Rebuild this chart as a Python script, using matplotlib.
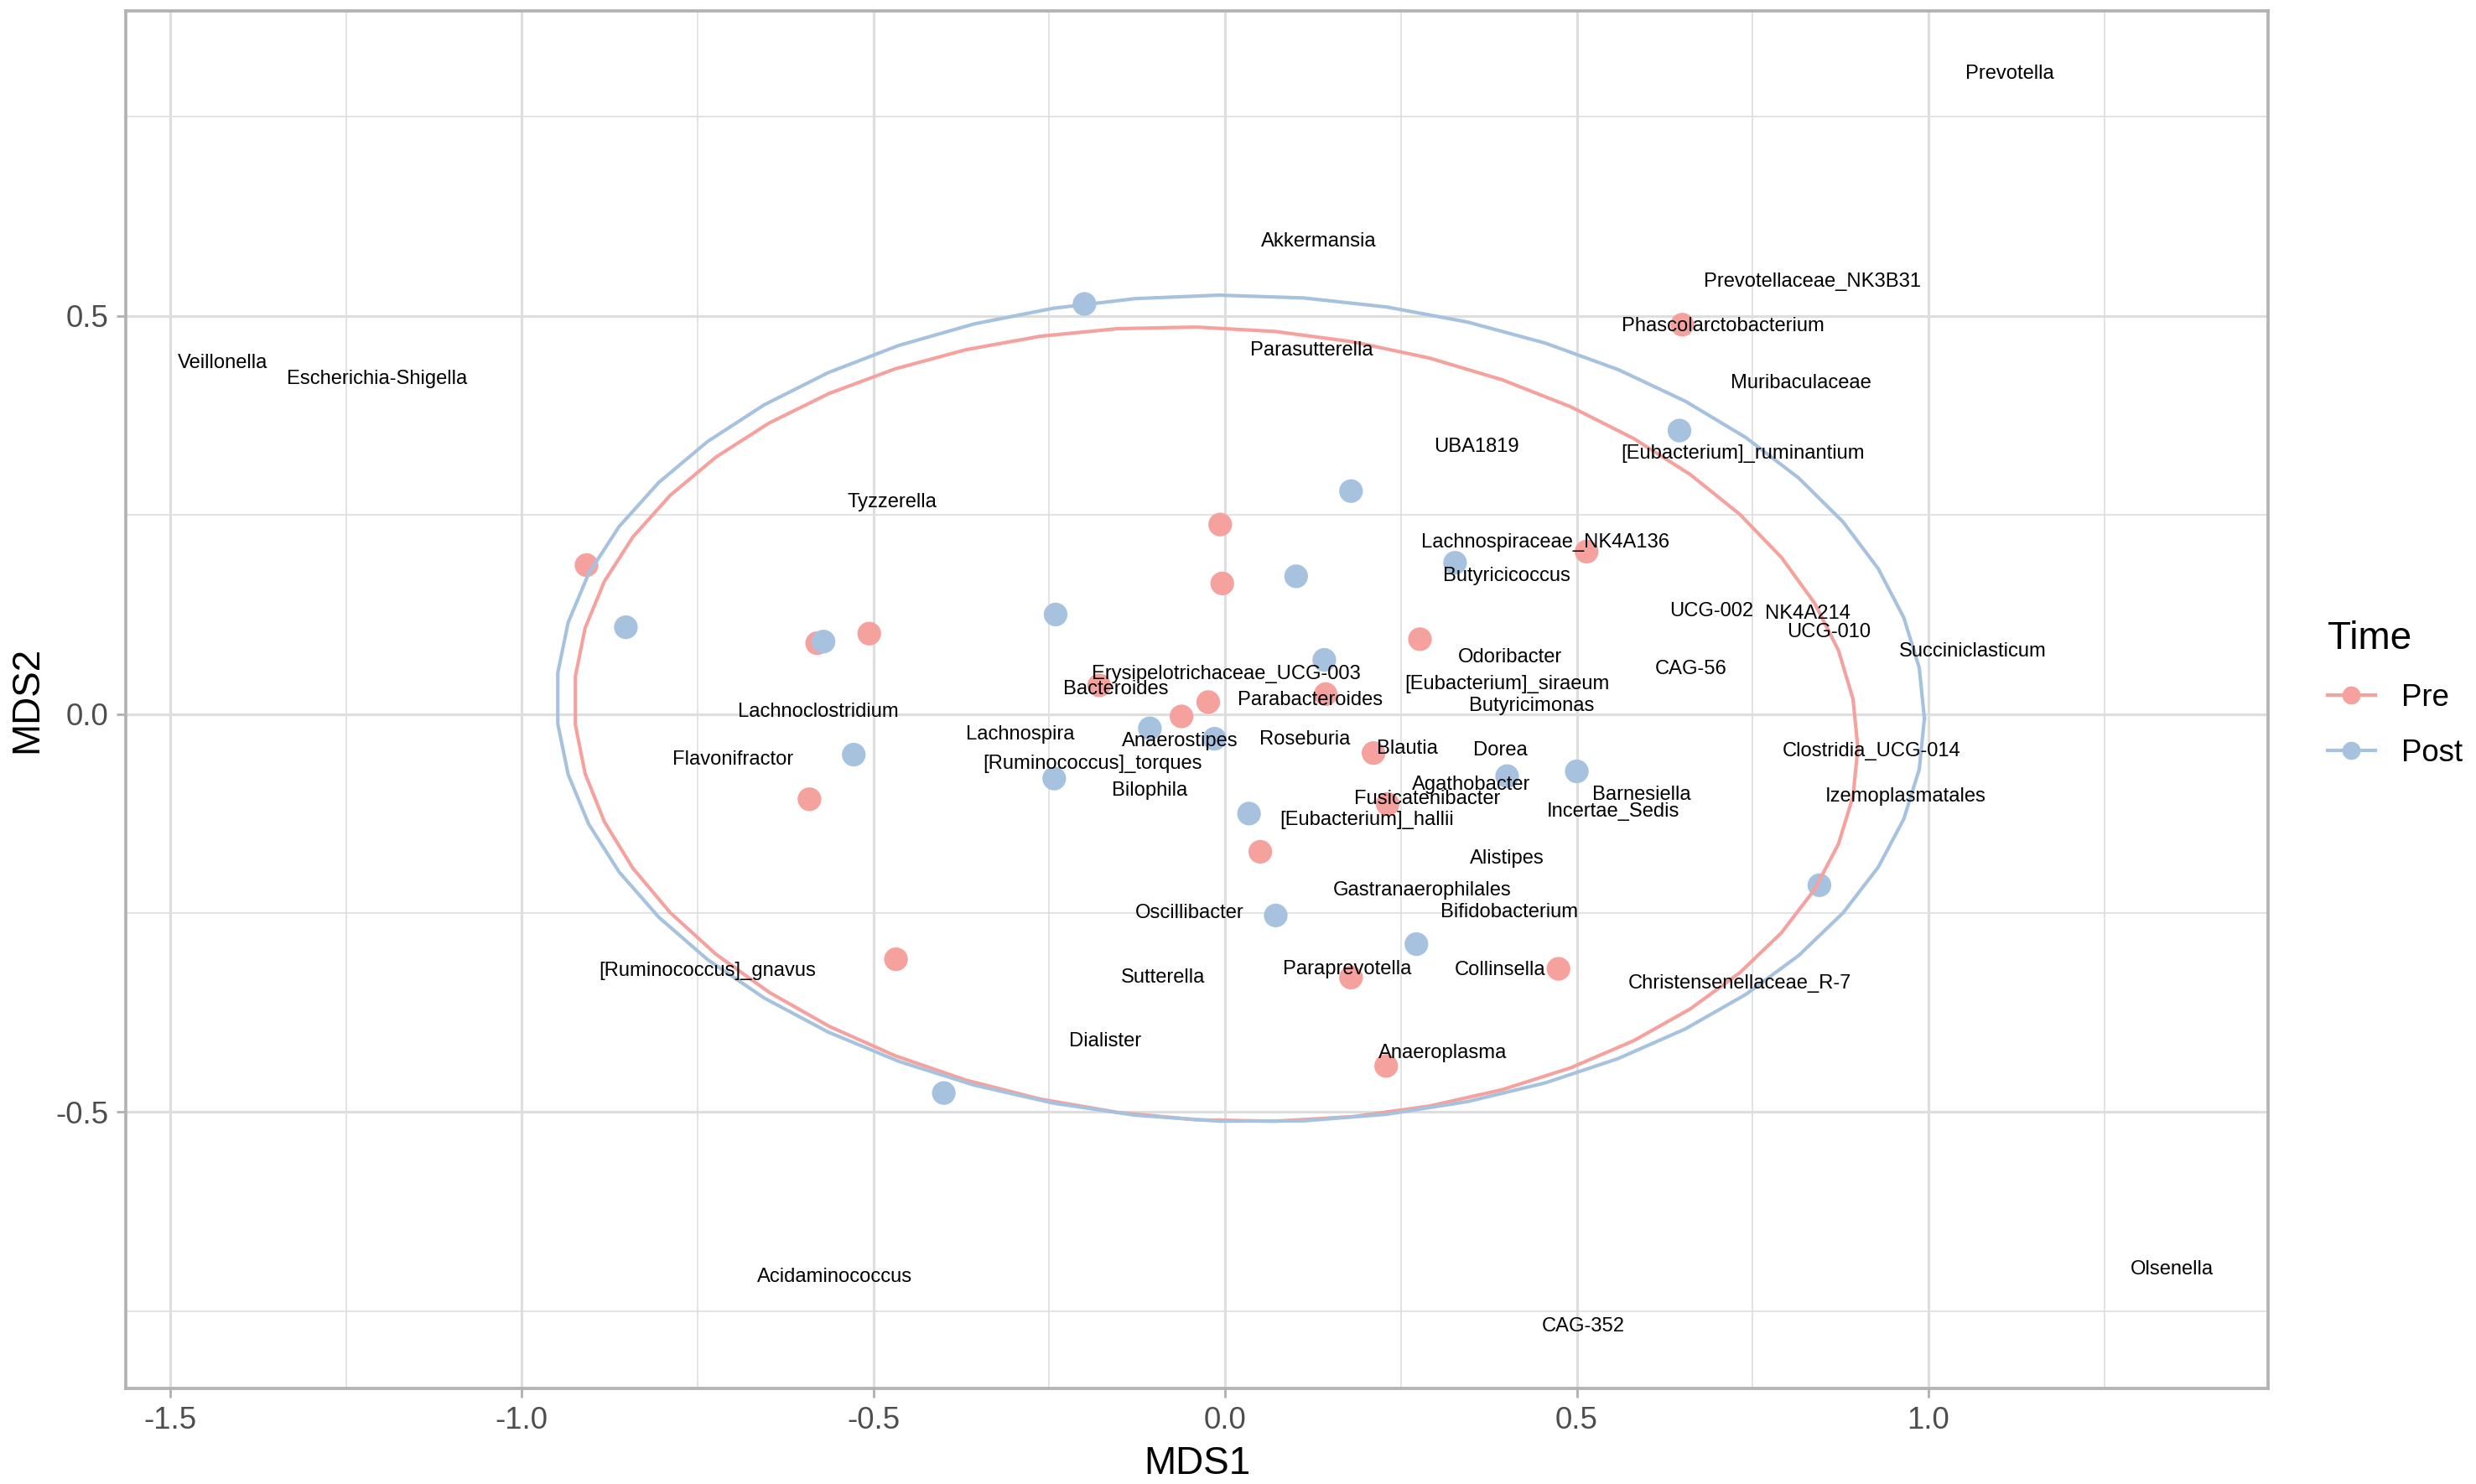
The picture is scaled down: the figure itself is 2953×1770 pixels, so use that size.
import numpy as np
import matplotlib
matplotlib.use("Agg")
import matplotlib.pyplot as plt
from matplotlib.lines import Line2D
from matplotlib.ticker import MultipleLocator

plt.rcParams['font.family'] = ['Liberation Sans', 'DejaVu Sans']

# ---------------- data ----------------
pre_x = [-0.908, -0.580, -0.506, -0.007, -0.004, 0.277, -0.179, -0.024, -0.062, 0.143,
         0.514, 0.650, 0.211, 0.231, 0.050, -0.591, -0.468, 0.179, 0.474, 0.229]
pre_y = [0.187, 0.089, 0.101, 0.238, 0.164, 0.094, 0.036, 0.015, -0.003, 0.025,
         0.204, 0.489, -0.049, -0.113, -0.173, -0.107, -0.308, -0.331, -0.320, -0.442]

post_x = [-0.852, -0.571, -0.241, 0.179, 0.101, -0.200, 0.141, 0.327, 0.646, -0.107,
          -0.015, -0.528, -0.243, 0.401, 0.500, 0.034, 0.072, 0.272, -0.400, 0.845]
post_y = [0.109, 0.091, 0.125, 0.280, 0.173, 0.515, 0.068, 0.190, 0.356, -0.018,
          -0.031, -0.051, -0.081, -0.078, -0.072, -0.125, -0.253, -0.289, -0.476, -0.215]

genera = ["Prevotella", "Akkermansia", "Prevotellaceae_NK3B31", "Phascolarctobacterium",
          "Veillonella", "Escherichia-Shigella", "Parasutterella", "Muribaculaceae",
          "UBA1819", "[Eubacterium]_ruminantium", "Tyzzerella", "Lachnospiraceae_NK4A136",
          "Butyricicoccus", "UCG-002", "NK4A214", "UCG-010", "Succiniclasticum",
          "Odoribacter", "Erysipelotrichaceae_UCG-003", "CAG-56", "[Eubacterium]_siraeum",
          "Bacteroides", "Parabacteroides", "Lachnoclostridium", "Butyricimonas",
          "Lachnospira", "Anaerostipes", "Roseburia", "Blautia", "Dorea",
          "Clostridia_UCG-014", "Flavonifractor", "[Ruminococcus]_torques", "Agathobacter",
          "Bilophila", "Barnesiella", "Fusicatenibacter", "Izemoplasmatales",
          "Incertae_Sedis", "[Eubacterium]_hallii", "Alistipes", "Gastranaerophilales",
          "Bifidobacterium", "Oscillibacter", "[Ruminococcus]_gnavus", "Sutterella",
          "Paraprevotella", "Collinsella", "Christensenellaceae_R-7", "Dialister",
          "Anaeroplasma", "Acidaminococcus", "Olsenella", "CAG-352"]
genus_x = [1.115, 0.133, 0.835, 0.708,
           -1.425, -1.206, 0.123, 0.819,
           0.358, 0.736, -0.474, 0.455,
           0.400, 0.692, 0.828, 0.858, 1.063,
           0.405, 0.001, 0.662, 0.401,
           -0.155, 0.121, -0.578, 0.436,
           -0.291, -0.064, 0.113, 0.259, 0.391,
           0.919, -0.700, -0.189, 0.350,
           -0.107, 0.592, 0.287, 0.968,
           0.552, 0.202, 0.401, 0.280,
           0.404, -0.050, -0.736, -0.088,
           0.173, 0.391, 0.732, -0.170,
           0.309, -0.555, 1.346, 0.509]
genus_y = [0.804, 0.593, 0.543, 0.487,
           0.441, 0.421, 0.457, 0.416,
           0.336, 0.327, 0.266, 0.216,
           0.173, 0.129, 0.126, 0.103, 0.079,
           0.071, 0.050, 0.057, 0.038,
           0.031, 0.018, 0.003, 0.010,
           -0.026, -0.034, -0.032, -0.044, -0.046,
           -0.047, -0.057, -0.062, -0.089,
           -0.096, -0.101, -0.107, -0.104,
           -0.123, -0.133, -0.181, -0.222,
           -0.249, -0.250, -0.323, -0.331,
           -0.320, -0.322, -0.338, -0.411,
           -0.426, -0.707, -0.698, -0.769]

groups = ["Pre", "Post"]
colors = {"Pre": "#F5A29F", "Post": "#A7C2DF"}


# ------------- stat_ellipse (type = "t", level = 0.95) -------------
def cov_trob(X, nu=5, maxit=25, tol=0.01):
    n, p = X.shape
    wt = np.ones(n)
    loc = X.mean(axis=0)
    w = np.sqrt(wt)
    Xc = X - loc
    for _ in range(maxit):
        w0 = w
        Xc = X - loc
        A = np.sqrt(w / w.sum())[:, None] * Xc
        _, d, Vt = np.linalg.svd(A, full_matrices=False)
        wX = Xc @ Vt.T @ np.diag(1.0 / d)
        Q = (wX ** 2).sum(axis=1)
        w = (wt * (nu + p)) / (nu + Q)
        loc = (w[:, None] * X).sum(axis=0) / w.sum()
        if np.all(np.abs(w - w0) < tol):
            break
    sw = np.sqrt(w)[:, None] * Xc
    cov = sw.T @ sw / wt.sum()
    return loc, cov


def ellipse_path(x, y, level=0.95, segments=51):
    X = np.column_stack([x, y])
    n = X.shape[0]
    dfn, dfd = 2, n - 1
    fq = dfd / 2.0 * ((1 - level) ** (-2.0 / dfd) - 1)  # qf(level, 2, dfd)
    center, shape = cov_trob(X)
    U = np.linalg.cholesky(shape).T
    radius = np.sqrt(dfn * fq)
    ang = np.arange(segments + 1) * 2 * np.pi / segments
    circ = np.column_stack([np.cos(ang), np.sin(ang)])
    e = center + radius * (circ @ U)
    return e[:, 0], e[:, 1]


# ---------------- figure ----------------
W, H, DPI = 2954, 1770, 300
fig = plt.figure(figsize=(W / DPI, H / DPI), dpi=DPI)
ax = fig.add_axes([150.5 / W, 1 - 1656 / H, (2705 - 150.5) / W, (1656 - 12.6) / H])

grid_c = "#DEDEDE"
ax.set_xlim(-1.5625, 1.4829)
ax.set_ylim(-0.847, 0.8835)
ax.xaxis.set_major_locator(MultipleLocator(0.5))
ax.yaxis.set_major_locator(MultipleLocator(0.5))
ax.xaxis.set_minor_locator(MultipleLocator(0.25))
ax.yaxis.set_minor_locator(MultipleLocator(0.25))
ax.grid(True, which="major", color=grid_c, linewidth=0.75)
ax.grid(True, which="minor", color=grid_c, linewidth=0.4)
ax.set_axisbelow(True)
ax.tick_params(which="minor", length=0)
ax.tick_params(which="major", length=2.75, width=0.7, color="#B3B3B3",
               labelsize=8.8, labelcolor="#4D4D4D", pad=2.2)
for s in ax.spines.values():
    s.set_color("#B3B3B3")
    s.set_linewidth(0.9)

ax.xaxis.set_major_formatter(matplotlib.ticker.FuncFormatter(lambda v, p: f"{v:.1f}"))
ax.yaxis.set_major_formatter(matplotlib.ticker.FuncFormatter(lambda v, p: f"{v:.1f}"))

series = {"Pre": (pre_x, pre_y), "Post": (post_x, post_y)}
for g in groups:
    gx, gy = series[g]
    ax.scatter(gx, gy, s=46, color=colors[g], edgecolors="none", zorder=3)
for g in groups:
    gx, gy = series[g]
    ex, ey = ellipse_path(np.array(gx), np.array(gy))
    ax.plot(ex, ey, color=colors[g], linewidth=1.0, zorder=4)

for name, tx, ty in zip(genera, genus_x, genus_y):
    ax.text(tx, ty, name, fontsize=5.7, ha="center", va="center", color="black", zorder=5)

ax.set_xlabel("MDS1", fontsize=11, labelpad=3)
ax.set_ylabel("MDS2", fontsize=11, labelpad=3)

handles = [Line2D([0], [0], color=colors[g], marker="o", markersize=5.2, linewidth=1.0,
                  markeredgewidth=0) for g in groups]
leg = fig.legend(handles, groups, title="Time", loc="center left",
                 bbox_to_anchor=(2776 / W, 1 - 828 / H), frameon=False,
                 fontsize=8.8, title_fontsize=11, handlelength=1.55,
                 handletextpad=0.85, labelspacing=0.85, borderpad=0.0,
                 borderaxespad=0.0)
leg._legend_box.align = "left"

fig.savefig("out.png", dpi=DPI)
